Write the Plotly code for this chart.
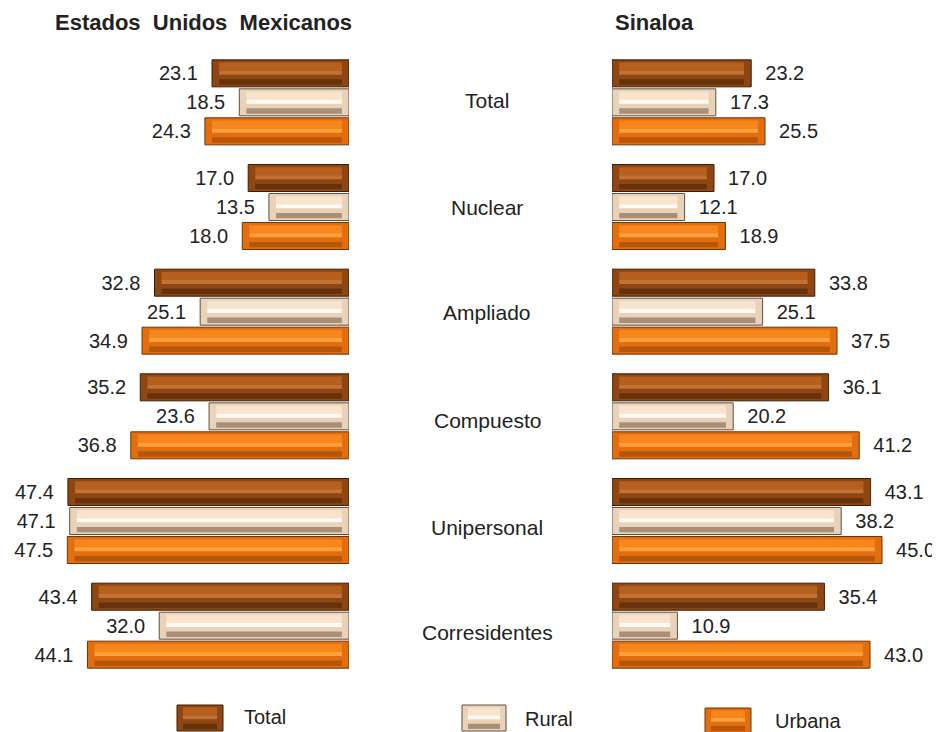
import plotly.graph_objects as go

# household types and percentages
categorias = ["Total", "Nuclear", "Ampliado", "Compuesto", "Unipersonal", "Corresidentes"]
series = ["Total", "Rural", "Urbana"]

eum_total = [23.1, 17.0, 32.8, 35.2, 47.4, 43.4]
eum_rural = [18.5, 13.5, 25.1, 23.6, 47.1, 32.0]
eum_urbana = [24.3, 18.0, 34.9, 36.8, 47.5, 44.1]

sin_total = [23.2, 17.0, 33.8, 36.1, 43.1, 35.4]
sin_rural = [17.3, 12.1, 25.1, 20.2, 38.2, 10.9]
sin_urbana = [25.5, 18.9, 37.5, 41.2, 45.0, 43.0]

W, H = 940, 732
FONT = "Liberation Sans, Arial, sans-serif"
TXT = "#222222"
# the page body has an 8px margin, so page pixels are shifted by 8
OFF = 8
# the middle labels sit a little lower than the group centres further down
desplaz_etiquetas = [2, -1, -1, -4, -6, -7]


def px(x):
    return (x - OFF) / W


def py(y):
    return 1 - (y - OFF) / H


# fill colours for the fake bevel: body, upper band, highlight, lower band, edge
estilos = {
    "Total": dict(base="#8e4612", claro="#b5601f", brillo="#c27232", oscuro="#66320c", borde="#3e1c04"),
    "Rural": dict(base="#e9d2b8", claro="#f8e4cc", brillo="#fffaf3", oscuro="#a89078", borde="#5e5043"),
    "Urbana": dict(base="#e26e10", claro="#f7861d", brillo="#ffa03e", oscuro="#b65608", borde="#6e3404"),
}

SLOT = 0.277   # distance between bars inside a group (category units)
BW = 0.258     # bar thickness
INSET = 1.2    # bevel inset at the bar ends (value units)


def add_series(fig, valores, serie, k, eje, lado):
    st = estilos[serie]
    c = (k - 1) * SLOT
    top = c - BW / 2
    if lado == "izq":
        textos = ["%.1f\u00a0\u00a0" % v for v in valores]
    else:
        textos = ["\u00a0\u00a0%.1f" % v for v in valores]
    fig.add_trace(go.Bar(
        y=categorias, x=valores, orientation="h", xaxis=eje, yaxis="y",
        offset=top, width=BW,
        marker=dict(color=st["base"], line=dict(color=st["borde"], width=1)),
        text=textos, textposition="outside", cliponaxis=False,
        textfont=dict(family=FONT, size=20, color=TXT),
        showlegend=False, hoverinfo="x",
    ))
    inner = [v - 2 * INSET for v in valores]
    for color, a, b in [(st["claro"], 0.10, 0.40),
                        (st["brillo"], 0.40, 0.55),
                        (st["oscuro"], 0.72, 0.92)]:
        fig.add_trace(go.Bar(
            y=categorias, x=inner, base=INSET, orientation="h", xaxis=eje, yaxis="y",
            offset=top + a * BW, width=(b - a) * BW,
            marker=dict(color=color, line=dict(width=0)),
            showlegend=False, hoverinfo="skip",
        ))


fig = go.Figure()
for k, (serie, vals) in enumerate(zip(series, [eum_total, eum_rural, eum_urbana])):
    add_series(fig, vals, serie, k, "x", "izq")
for k, (serie, vals) in enumerate(zip(series, [sin_total, sin_rural, sin_urbana])):
    add_series(fig, vals, serie, k, "x2", "der")

anotaciones = []
for cat, dy in zip(categorias, desplaz_etiquetas):
    anotaciones.append(dict(
        x=px(487), xref="paper", y=cat, yref="y", text=cat, showarrow=False, yshift=dy,
        font=dict(family=FONT, size=21, color=TXT), xanchor="center", yanchor="middle",
    ))
anotaciones.append(dict(
    x=px(203), y=py(22), xref="paper", yref="paper", showarrow=False,
    xanchor="center", yanchor="middle",
    text="<b>Estados  Unidos  Mexicanos</b>", font=dict(family=FONT, size=22, color=TXT),
))
anotaciones.append(dict(
    x=px(654), y=py(22), xref="paper", yref="paper", showarrow=False,
    xanchor="center", yanchor="middle",
    text="<b>Sinaloa</b>", font=dict(family=FONT, size=22, color=TXT),
))

# legend drawn by hand, bigger swatches than plotly's own
leyenda = [("Total", 177, 223, 705, 731, 242, 717),
           ("Rural", 462, 506, 705, 731, 523, 719),
           ("Urbana", 705, 751, 708, 733, 773, 721)]
formas = []
for serie, x0, x1, y0, y1, tx, ty in leyenda:
    st = estilos[serie]
    formas.append(dict(type="rect", xref="paper", yref="paper",
                       x0=px(x0), x1=px(x1), y0=py(y0), y1=py(y1),
                       fillcolor=st["base"], line=dict(color=st["borde"], width=1)))
    hh = y1 - y0
    for color, a, b in [(st["claro"], 0.10, 0.40), (st["brillo"], 0.40, 0.55), (st["oscuro"], 0.72, 0.92)]:
        formas.append(dict(type="rect", xref="paper", yref="paper",
                           x0=px(x0 + 6), x1=px(x1 - 6),
                           y0=py(y0 + a * hh), y1=py(y0 + b * hh),
                           fillcolor=color, line=dict(width=0)))
    anotaciones.append(dict(
        x=px(tx), y=py(ty), xref="paper", yref="paper", text=serie, showarrow=False,
        xanchor="left", yanchor="middle", font=dict(family=FONT, size=20, color=TXT),
    ))

fig.update_layout(
    width=W, height=H,
    margin=dict(l=0, r=0, t=0, b=0, autoexpand=False),
    paper_bgcolor="white", plot_bgcolor="white",
    barmode="overlay",
    xaxis=dict(domain=[px(52.5), px(349)], range=[50, 0], visible=False, anchor="y"),
    xaxis2=dict(domain=[px(612), px(912)], range=[0, 50], visible=False, anchor="y"),
    yaxis=dict(domain=[py(678), py(50)], type="category", categoryorder="array",
               categoryarray=categorias, range=[5.5, -0.5], visible=False),
    annotations=anotaciones,
    shapes=formas,
    showlegend=False,
)

fig.write_html("out.html")
